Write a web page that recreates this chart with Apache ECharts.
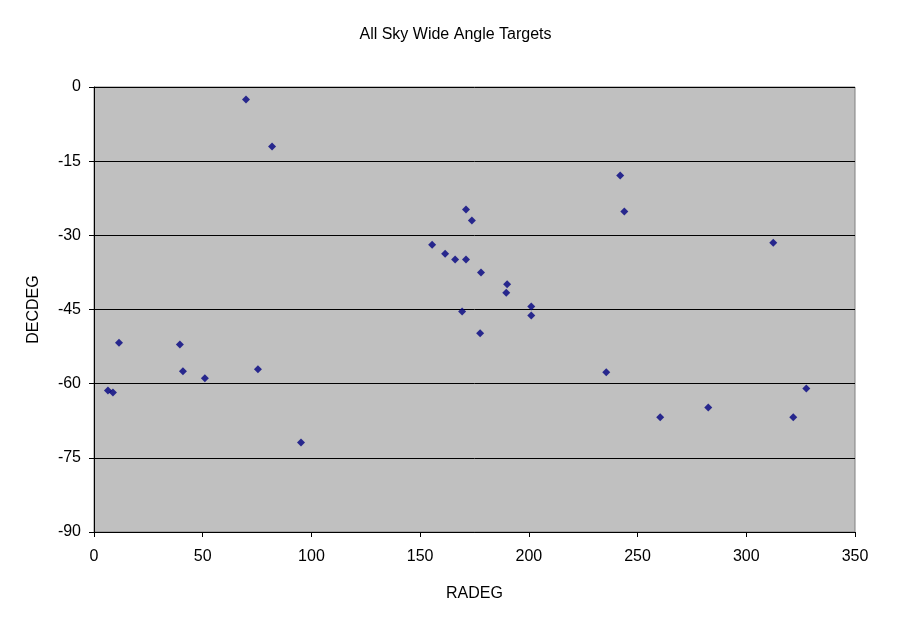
<!DOCTYPE html>
<html><head><meta charset="utf-8">
<script src="https://cdn.jsdelivr.net/npm/echarts@6/dist/echarts.min.js"></script>
<style>html,body{margin:0;padding:0;background:#fff}#c{width:911px;height:623px}</style>
</head><body><div id="c"></div>
<script>
const raDeg = [69.9, 81.9, 11.5, 39.5, 40.9, 51.0, 75.4, 6.4, 8.7, 95.2,
  171.1, 173.8, 155.5, 161.5, 166.1, 171.1, 178.0, 190.0, 189.6, 169.3, 201.1, 201.1, 177.6,
  242.0, 243.9, 312.4, 235.6, 327.6, 260.4, 282.5, 321.6];
const decDeg = [-2.55, -12.05, -51.7, -52.1, -57.5, -58.9, -57.1, -61.4, -61.8, -71.9,
  -24.8, -27.0, -31.9, -33.7, -34.9, -34.9, -37.5, -39.9, -41.6, -45.4, -44.4, -46.2, -49.8,
  -17.9, -25.2, -31.5, -57.7, -61.0, -66.8, -64.8, -66.8];
const title = 'All Sky Wide Angle Targets';
const xName = 'RADEG', yName = 'DECDEG';

const pts = raDeg.map((x, i) => [x, decDeg[i]]);
const font = 'Liberation Sans, Arial, sans-serif';
const chart = echarts.init(document.getElementById('c'), null, {renderer: 'canvas'});
chart.setOption({
  animation: false,
  title: {text: title, left: 'center', top: 22, textStyle: {fontFamily: font, fontSize: 16, fontWeight: 'normal', color: '#000'}},
  grid: {left: 94, right: 56, top: 87, bottom: 91, show: true, backgroundColor: '#C0C0C0', borderColor: '#808080', borderWidth: 1},
  xAxis: {
    type: 'value', min: 0, max: 350, interval: 50,
    name: xName, nameLocation: 'middle', nameGap: 54,
    nameTextStyle: {fontFamily: font, fontSize: 16, color: '#000'},
    axisLine: {show: true, onZero: false, lineStyle: {color: '#000', width: 1}},
    axisTick: {show: true, length: 5, lineStyle: {color: '#000'}},
    axisLabel: {fontFamily: font, fontSize: 16, color: '#000', margin: 17},
    splitLine: {show: false}
  },
  yAxis: {
    type: 'value', min: -90, max: 0, interval: 15,
    name: yName, nameLocation: 'middle', nameGap: 52, nameRotate: 90,
    nameTextStyle: {fontFamily: font, fontSize: 16, color: '#000'},
    axisLine: {show: true, onZero: false, lineStyle: {color: '#000', width: 1}},
    axisTick: {show: true, length: 5, lineStyle: {color: '#000'}},
    axisLabel: {fontFamily: font, fontSize: 16, color: '#000', margin: 13},
    splitLine: {show: true, lineStyle: {color: '#000', width: 1}}
  },
  series: [{
    type: 'scatter', data: pts, symbol: 'diamond', symbolSize: 8,
    itemStyle: {color: '#000080'}
  }]
});
</script></body></html>
